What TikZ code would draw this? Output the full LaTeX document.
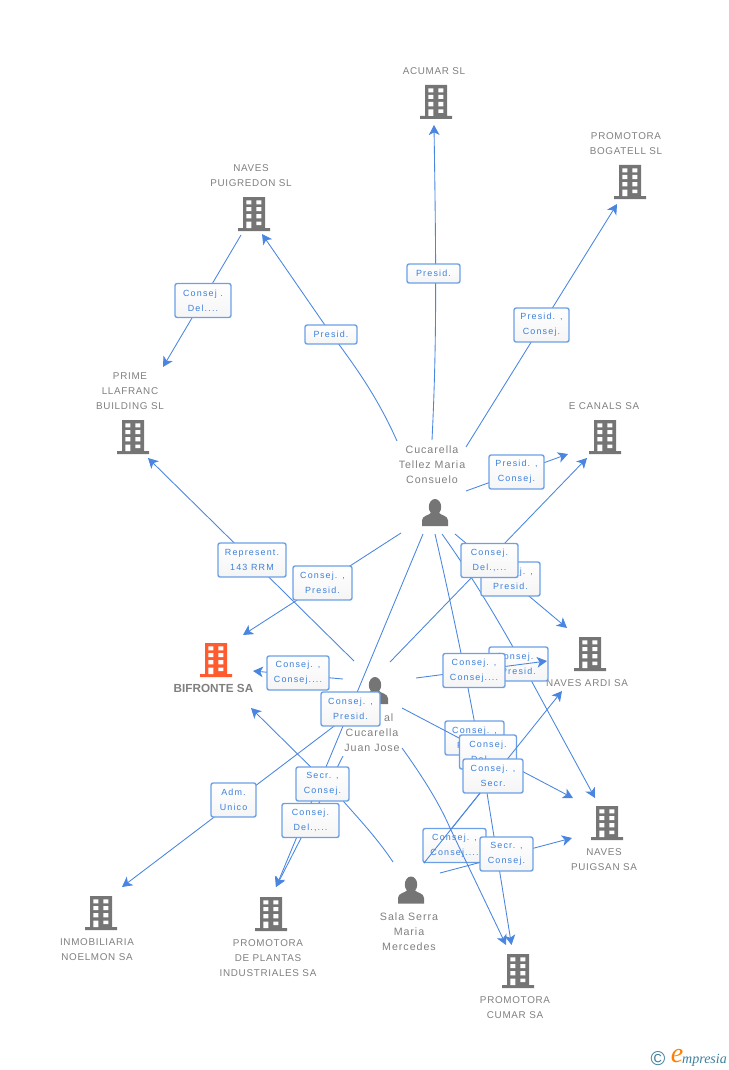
\documentclass[tikz,border=0pt]{standalone}
\usepackage{fontspec}
\setmainfont{Liberation Sans}
\newfontfamily\lblfont[LetterSpace=13]{Liberation Sans}
\newfontfamily\namefont[LetterSpace=7]{Liberation Sans}
\newfontfamily\persfont[LetterSpace=9]{Liberation Sans}
\newfontfamily\logofont{Liberation Serif}
\usetikzlibrary{arrows.meta}
\definecolor{linkc}{HTML}{4A86E0}
\definecolor{boxc}{HTML}{6CA0E6}
\definecolor{txtb}{HTML}{3C80DC}
\definecolor{greyc}{HTML}{757575}
\definecolor{namec}{HTML}{7F7F7F}
\definecolor{orangec}{HTML}{FF5B2E}
\definecolor{tealc}{HTML}{3C7F9C}
\tikzset{
 conn/.style={draw=linkc,line width=0.65pt,-{Stealth[length=7.5pt,width=8pt,inset=2pt]}},
 lbl/.style={draw=boxc,line width=1.05pt,rounded corners=1.6pt,top color=white,bottom color=white!96!black,
   text=txtb,font=\lblfont\fontsize{6.7}{11.25}\selectfont,align=center,inner sep=0pt,
   minimum width=#1*0.75pt,minimum height=25.5pt},
 lblone/.style={lbl=#1,minimum height=14.2pt},
 nm/.style={text=namec,font=\namefont\fontsize{7.4}{11.25}\selectfont,align=center,inner sep=0pt},
 pnm/.style={text=namec,font=\persfont\fontsize{8}{11.25}\selectfont,align=center,inner sep=0pt},
 bldg/.style={minimum width=24pt,minimum height=25.5pt,inner sep=0pt,path picture={
   \begin{scope}[shift={(path picture bounding box.center)}]
   \fill[#1] (-11,-17) rectangle (11,14) (-16,14) rectangle (16,17);
   \fill[white] (-7.7,-13.7) rectangle (-2.7,-9.7) (2.3,-13.7) rectangle (7.3,-9.7)
     (-7.7,-7) rectangle (-2.7,-3) (2.3,-7) rectangle (7.3,-3)
     (-7.7,0) rectangle (-2.7,4.4) (2.3,0) rectangle (7.3,4.4)
     (-7.7,7.5) rectangle (-2.7,14) (2.3,7.5) rectangle (7.3,11);
   \end{scope}}},
 pers/.style={minimum width=20pt,minimum height=21pt,inner sep=0pt,path picture={
   \begin{scope}[shift={(path picture bounding box.center)}]
   \fill[greyc] (0,-5.5) ellipse (6.2 and 8);
   \fill[greyc] (-13,13.5) -- (-13,8) .. controls (-13,3) and (-6,3) .. (-3.5,0) -- (3.5,0) .. controls (6,3) and (13,3) .. (13,8) -- (13,13.5) -- cycle;
   \end{scope}}}
}
\begin{document}
\begin{tikzpicture}[x=0.75pt,y=-0.75pt]
\useasboundingbox (0,0) rectangle (728,1070);
% buildings
\node[bldg=greyc] (acumar) at (436,102) {};
\node[bldg=greyc] (bogatell) at (630,182) {};
\node[bldg=greyc] (puigredon) at (254,214) {};
\node[bldg=greyc] (prime) at (133,437) {};
\node[bldg=greyc] (ecanals) at (605,437) {};
\node[bldg=orangec] (bifronte) at (216,660) {};
\node[bldg=greyc] (ardi) at (590,654) {};
\node[bldg=greyc] (puigsan) at (607,823) {};
\node[bldg=greyc] (noelmon) at (101,913) {};
\node[bldg=greyc] (plantas) at (271,914) {};
\node[bldg=greyc] (cumar) at (518,971) {};
% people
\node[pers] (tellez) at (435,512.5) {};
\node[pers] (juan) at (375,690.5) {};
\node[pers] (sala) at (411,890) {};
% names
\node[nm] (nacumar) at (434,71) {ACUMAR SL};
\node[nm] (nbogatell) at (626,143.5) {PROMOTORA\\BOGATELL SL};
\node[nm] (npuigredon) at (251,175.5) {NAVES\\PUIGREDON SL};
\node[nm] (nprime) at (130,391) {PRIME\\LLAFRANC\\BUILDING  SL};
\node[nm] (necanals) at (604,406) {E CANALS SA};
\node[text=namec,font=\fontsize{8.8}{11}\selectfont\bfseries,inner sep=0pt] (nbifronte) at (213.5,688) {BIFRONTE SA};
\node[nm] (nardi) at (587,683) {NAVES ARDI SA};
\node[nm] (npuigsan) at (604,859.5) {NAVES\\PUIGSAN SA};
\node[nm] (nnoelmon) at (97,949.5) {INMOBILIARIA\\NOELMON SA};
\node[nm] (nplantas) at (268,958) {PROMOTORA\\DE PLANTAS\\INDUSTRIALES SA};
\node[nm] (ncumar) at (515,1007.5) {PROMOTORA\\CUMAR SA};
\node[pnm] (ntellez) at (432,465) {Cucarella\\Tellez Maria\\Consuelo};
\node[pnm] (nsala) at (409,932) {Sala Serra\\Maria\\Mercedes};
\node[pnm] (njuan) at (372,733) {\phantom{Pascu}al\\Cucarella\\Juan Jose};
% free connector ends
\coordinate (t1) at (432,440);   \coordinate (acumarIn) at (434,125);
\coordinate (t2) at (397,441);   \coordinate (puigIn) at (262,234);
\coordinate (t3) at (466,447);   \coordinate (bogIn) at (617,204);
\coordinate (t4) at (466,491);   \coordinate (ecIn) at (568,454);
\coordinate (p1) at (241,235);   \coordinate (primeIn) at (163,367);
\coordinate (j1) at (354,661);   \coordinate (primeIn2) at (148,458);
\coordinate (t5) at (401,533);   \coordinate (bifIn) at (243,635);
\coordinate (t6) at (455,534);   \coordinate (ardiIn) at (567,628);
\coordinate (t7) at (423,534);   \coordinate (plIn) at (276,887);
\coordinate (t8) at (435,534);   \coordinate (cumIn) at (511.5,945);
\coordinate (t9) at (442,534);   \coordinate (psIn) at (595,798);
\coordinate (j2) at (390,662);   \coordinate (ecIn2) at (587,458);
\coordinate (j3) at (416,678);   \coordinate (ardiIn2) at (547,661);
\coordinate (j4) at (343,679);   \coordinate (bifIn2) at (253,671);
\coordinate (j5) at (358,708);   \coordinate (noIn) at (122,887);
\coordinate (j6) at (343,756);
\coordinate (j7) at (402,708);   \coordinate (psIn2) at (573,798);
\coordinate (j8) at (402,748);   \coordinate (cumIn2) at (506,945);
\coordinate (s1) at (393,862);   \coordinate (bifIn3) at (251,708);
\coordinate (s2) at (440,873);   \coordinate (psIn3) at (572,838);
\coordinate (s3) at (424,863);   \coordinate (ardiIn3) at (562,691);
% edges and labels, in stacking order
\draw[conn] (t1) .. controls (437,340) and (436,260) .. (acumarIn);
\node[lblone=53] (l1) at (433.5,273.5) {Presid.};
\draw[conn] (t2) .. controls (372,385) and (345,354) .. (320,318) -- (puigIn);
\node[lblone=52] (l2) at (331,334.5) {Presid.};
\draw[conn] (t3) -- (bogIn);
\node[lbl=55] (l3) at (541.5,325) {Presid. ,\\Consej.};
\draw[conn] (t4) -- (ecIn);
\node[lbl=55] (l4) at (516.5,472) {Presid. ,\\Consej.};
\draw[conn] (p1) -- (primeIn);
\node[lbl=56] (l5) at (203,300.5) {Consej .\\Del....};
\draw[conn] (j1) -- (primeIn2);
\node[lbl=68] (l6) at (252,560) {Represent.\\143 RRM};
\draw[conn] (t5) -- (bifIn);
\node[lbl=59] (l7) at (322.5,583) {Consej. ,\\Presid.};
\draw[conn] (t9) .. controls (475,580) and (510,640) .. (532,682) -- (psIn);
\draw[conn] (t6) -- (ardiIn);
\node[lbl=59] (l8) at (510.5,579) {Consej. ,\\Presid.};
\draw[conn] (j2) -- (ecIn2);
\node[lbl=57] (l9) at (489.5,560.5) {Consej.\\Del.,...};
\node[lbl=59] (l10) at (518.5,664) {Consej. ,\\Presid.};
\draw[conn] (j3) -- (ardiIn2);
\draw[conn] (t8) .. controls (458,634) and (473.6,713) .. (487,793) -- (cumIn);
\node[lbl=62] (l11) at (474,670.5) {Consej. ,\\Consej....};
\draw[conn] (j4) -- (bifIn2);
\node[lbl=62] (l12) at (298,673) {Consej. ,\\Consej....};
\draw[conn] (t7) -- (plIn);
\draw[conn] (j6) -- (plIn);
\draw[conn] (j5) -- (noIn);
\node[lblone=45,minimum height=25.5pt] (l13) at (233.5,800) {Adm.\\Unico};
\node[lbl=59] (l14) at (350.5,709) {Consej. ,\\Presid.};
\draw[conn] (s1) .. controls (375,835) and (355,815) .. (330,786) -- (bifIn3);
\node[lbl=53] (l15) at (322.5,784) {Secr. ,\\Consej.};
\node[lbl=57] (l16) at (310.5,820.5) {Consej.\\Del.,...};
\node[lbl=59] (l17) at (474.5,738) {Consej. ,\\Presid.};
\draw[conn] (j7) -- (psIn2);
\node[lbl=57] (l18) at (488,752) {Consej.\\Del.,...};
\draw[conn] (s3) -- (ardiIn3);
\node[lbl=60] (l19) at (493,776) {Consej. ,\\Secr.};
\node[lbl=63] (l20) at (454.5,845.5) {Consej. ,\\Consej....};
\draw[conn] (j8) .. controls (425,780) and (440,805) .. (450,828) -- (cumIn2);
\draw[conn] (s2) -- (psIn3);
\draw[draw=linkc,line width=0.65pt] (s3) -- (480,793);
\node[lbl=53] (l21) at (506.5,854) {Secr. ,\\Consej.};
% logo
\node[text=tealc,font=\fontsize{15}{15}\selectfont,inner sep=0pt] (logoc) at (658,1059) {©};
\node[text=orange,font=\logofont\itshape\fontsize{21}{21}\selectfont,inner sep=0pt] (logoe) at (677,1056) {e};
\node[text=tealc,font=\logofont\itshape\fontsize{10.5}{11}\selectfont,inner sep=0pt] (logot) at (704.5,1060) {mpresia};
\end{tikzpicture}
\end{document}
